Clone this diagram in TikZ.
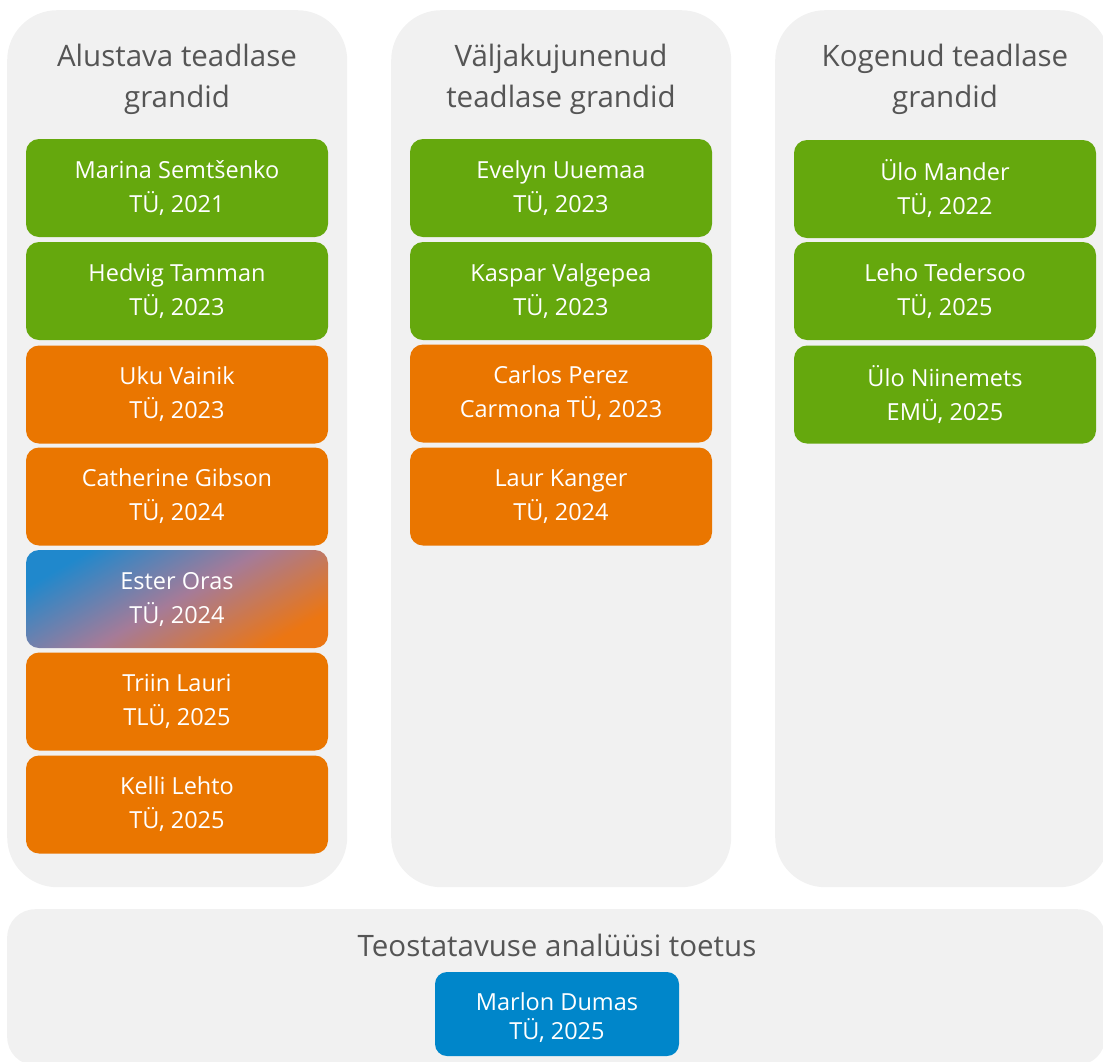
\documentclass[tikz,border=0pt]{standalone}
\usepackage{fontspec}
\setmainfont{Open Sans}
\definecolor{panel}{HTML}{F1F1F1}
\definecolor{ttl}{HTML}{555555}
\definecolor{grn}{HTML}{65A80D}
\definecolor{org}{HTML}{EA7600}
\definecolor{blu}{HTML}{0086CA}
\definecolor{gblue}{HTML}{2088CC}
\definecolor{gmid}{HTML}{A57B98}
\definecolor{gorg}{HTML}{EC7612}
\begin{document}
\begin{tikzpicture}[x=1pt,y=-1pt,
  panelbox/.style={fill=panel, draw=none, rounded corners=50pt, inner sep=0pt, anchor=north west},
  grant/.style={rounded corners=13pt, minimum width=302pt, minimum height=98pt, inner sep=0pt,
    text=white, align=center, font=\fontsize{23.5}{34}\selectfont},
  greenbox/.style={grant, fill=grn},
  orangebox/.style={grant, fill=org},
  title/.style={text=ttl, align=center, font=\fontsize{29.5}{41}\selectfont}
]
\useasboundingbox (0,0) rectangle (1103,1061);
\clip (0,0) rectangle (1103,1061);
% panels
\node[panelbox, minimum width=340pt, minimum height=877pt] (p1) at (7,10) {};
\node[panelbox, minimum width=340pt, minimum height=877pt] (p2) at (391,10) {};
\node[panelbox, minimum width=334pt, minimum height=877pt] (p3) at (775,10) {};
\node[panelbox, rounded corners=28pt, minimum width=1098pt, minimum height=156pt] (p4) at (7,909) {};
% titles
\node[title] (t1) at (177,79) {Alustava teadlase\\grandid};
\node[title] (t2) at (561,79) {Väljakujunenud\\teadlase grandid};
\node[title] (t3) at (945,79) {Kogenud teadlase\\grandid};
\node[title, font=\fontsize{29.5}{34}\selectfont] (t4) at (557,945) {Teostatavuse analüüsi toetus};
% column 1
\node[greenbox] (a1) at (177,188) {Marina Semtšenko\\TÜ, 2021};
\node[greenbox] (a2) at (177,291) {Hedvig Tamman\\TÜ, 2023};
\node[orangebox] (a3) at (177,394.5) {Uku Vainik\\TÜ, 2023};
\node[orangebox] (a4) at (177,496.5) {Catherine Gibson\\TÜ, 2024};
\node[grant, top color=gblue, bottom color=gorg, middle color=gmid, shading angle=30] (a5) at (177,599) {Ester Oras\\TÜ, 2024};
\node[orangebox] (a6) at (177,701.5) {Triin Lauri\\TLÜ, 2025};
\node[orangebox] (a7) at (177,804.5) {Kelli Lehto\\TÜ, 2025};
% column 2
\node[greenbox] (b1) at (561,188) {Evelyn Uuemaa\\TÜ, 2023};
\node[greenbox] (b2) at (561,291) {Kaspar Valgepea\\TÜ, 2023};
\node[orangebox] (b3) at (561,393.5) {Carlos Perez\\Carmona TÜ, 2023};
\node[orangebox] (b4) at (561,496.5) {Laur Kanger\\TÜ, 2024};
% column 3
\node[greenbox] (c1) at (945,189) {Ülo Mander\\TÜ, 2022};
\node[greenbox] (c2) at (945,291) {Leho Tedersoo\\TÜ, 2025};
\node[greenbox] (c3) at (945,394.5) {Ülo Niinemets\\EMÜ, 2025};
% bottom
\node[grant, fill=blu, rounded corners=12pt, minimum width=244pt, minimum height=84pt,
  font=\fontsize{23.5}{29}\selectfont, text depth=0pt] (d1) at (557,1014)
  {\raisebox{12pt}{\parbox{220pt}{\centering Marlon Dumas\\TÜ, 2025}}};
\end{tikzpicture}
\end{document}
